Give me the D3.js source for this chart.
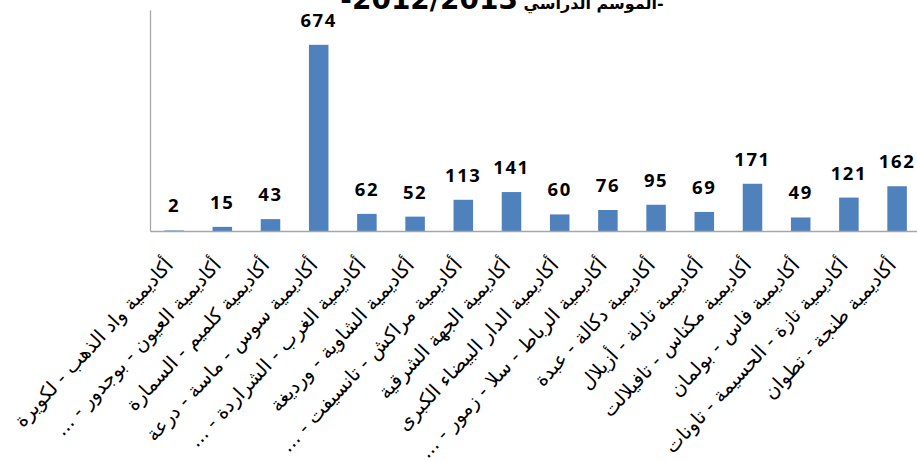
<!DOCTYPE html>
<html>
<head>
<meta charset="utf-8">
<script src="https://cdn.jsdelivr.net/npm/d3@7"></script>
<style>
  body { margin: 0; background: #fff; }
  svg { display: block; }
</style>
</head>
<body>
<div id="chart"></div>
<script>
// academies (left to right as drawn) and their counts
var academies = [
  "أكاديمية واد الذهب - لكويرة",
  "أكاديمية العيون - بوجدور - ...",
  "أكاديمية كلميم - السمارة",
  "أكاديمية سوس - ماسة - درعة",
  "أكاديمية الغرب - الشراردة - ...",
  "أكاديمية الشاوية - ورديغة",
  "أكاديمية مراكش - تانسيفت - ...",
  "أكاديمية الجهة الشرقية",
  "أكاديمية الدار  البيضاء الكبرى",
  "أكاديمية الرباط - سلا - زمور - ...",
  "أكاديمية دكالة - عبدة",
  "أكاديمية تادلة - أزيلال",
  "أكاديمية مكناس - تافيلالت",
  "أكاديمية فاس - بولمان",
  "أكاديمية تازة - الحسيمة - تاونات",
  "أكاديمية طنجة - تطوان"
];
var counts = [2, 15, 43, 674, 62, 52, 113, 141, 60, 76, 95, 69, 171, 49, 121, 162];
var yDomain = [0, 800];
var titleWords = "-الموسم الدراسي ";
var titleYear = "2012/2013-";

var W = 917, H = 462;
var plotLeft = 150, plotTop = 10, base = 231;
var step = 48.2;

var svg = d3.select("#chart").append("svg")
  .attr("width", W)
  .attr("height", H);

var x = d3.scaleBand()
  .domain(d3.range(academies.length))
  .range([plotLeft, plotLeft + step * academies.length])
  .paddingInner(0.595)
  .paddingOuter(0.2975);

var y = d3.scaleLinear()
  .domain(yDomain)
  .range([base, plotTop]);

// title (cut off by the top edge, as in the source)
var title = svg.append("text")
  .attr("x", 502)
  .attr("y", 9)
  .attr("direction", "rtl")
  .style("unicode-bidi", "embed")
  .attr("text-anchor", "middle")
  .attr("font-family", "DejaVu Sans, sans-serif")
  .attr("font-weight", "bold")
  .attr("fill", "#000");
title.append("tspan").attr("font-size", 16).text(titleWords);
title.append("tspan").attr("font-size", 28).text(titleYear);

// bars
svg.selectAll(".bar")
  .data(counts)
  .enter().append("rect")
  .attr("class", "bar")
  .attr("x", function (d, i) { return x(i); })
  .attr("width", x.bandwidth())
  .attr("y", function (d) { return y(d); })
  .attr("height", function (d) { return base - y(d); })
  .attr("fill", "#4f81bd");

// axes: plain grey lines, no ticks
svg.append("g")
  .attr("transform", "translate(" + plotLeft + ",0)")
  .call(d3.axisLeft(y).tickValues([]).tickSizeOuter(0));
svg.append("g")
  .attr("transform", "translate(0," + base + ")")
  .call(d3.axisBottom(d3.scaleLinear().range([plotLeft, W])).tickValues([]).tickSizeOuter(0));
svg.selectAll(".domain").attr("stroke", "#a6a6a6").attr("stroke-width", 1.3);

// value labels
svg.selectAll(".val")
  .data(counts)
  .enter().append("text")
  .attr("class", "val")
  .attr("x", function (d, i) { return x(i) + x.bandwidth() / 2; })
  .attr("y", function (d) { return y(d) - 18; })
  .attr("text-anchor", "middle")
  .attr("font-family", "Open Sans, sans-serif")
  .attr("font-weight", 700)
  .attr("font-size", 18.5)
  .attr("letter-spacing", 1.6)
  .attr("fill", "#000")
  .text(function (d) { return d; });

// rotated category labels
svg.selectAll(".cat")
  .data(academies)
  .enter().append("text")
  .attr("class", "cat")
  .attr("transform", function (d, i) {
    var cx = x(i) + x.bandwidth() / 2;
    return "translate(" + cx + "," + 266 + ") rotate(-47)";
  })
  .attr("direction", "rtl")
  .style("unicode-bidi", "embed")
  .attr("text-anchor", "start")
  .attr("font-family", "DejaVu Sans, sans-serif")
  .attr("font-size", 19.5)
  .attr("fill", "#000")
  .text(function (d) { return d; });
</script>
</body>
</html>
